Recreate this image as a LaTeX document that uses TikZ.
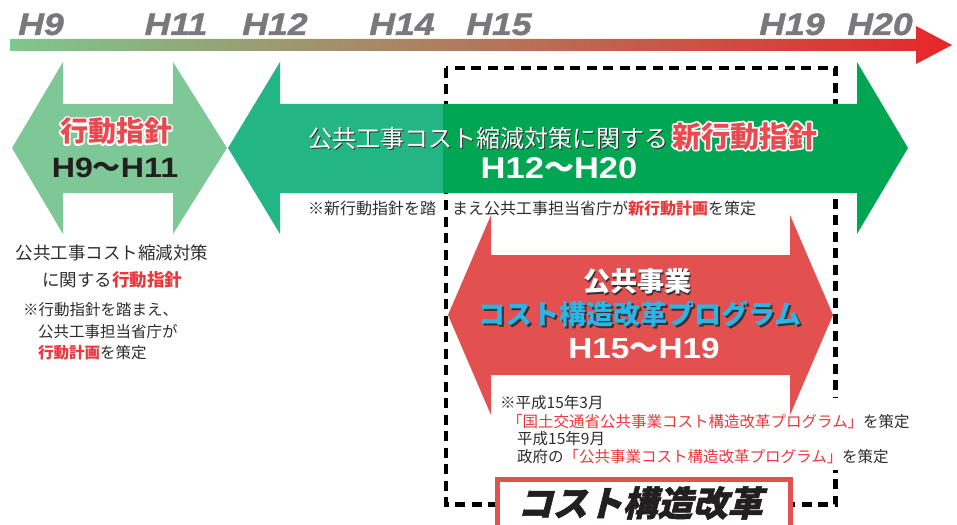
\documentclass[tikz,border=0pt]{standalone}
\usepackage{fontspec}
\setmainfont{Noto Sans CJK JP}
\newfontfamily\hfont{Liberation Sans}[FakeStretch=1.15]
\definecolor{tlgreen}{RGB}{125,200,140}
\definecolor{tltan}{RGB}{178,155,92}
\definecolor{tlred}{RGB}{232,38,42}
\definecolor{tgrey}{RGB}{120,120,125}
\definecolor{lgreen}{RGB}{125,200,150}
\definecolor{teal}{RGB}{35,182,132}
\definecolor{dgreen}{RGB}{0,166,81}
\definecolor{rarrow}{RGB}{227,80,80}
\definecolor{ared}{RGB}{232,74,79}
\definecolor{nred}{RGB}{232,56,61}
\definecolor{cyanp}{RGB}{45,180,230}
\definecolor{tblack}{RGB}{35,31,32}
\definecolor{ntext}{RGB}{45,45,45}
\definecolor{shd}{RGB}{50,50,50}
% outlined text: stroked copy underneath, filled copy on top
\newcommand\halo[3]{\leavevmode
 \rlap{\color{#1}\special{pdf:literal direct 2 Tr 3.5 w 1 j}#3\special{pdf:literal direct 0 Tr 1 w 0 j}}%
 {\color{#2}#3}}
\newcommand\shad[3]{\leavevmode
 \rlap{\color{#1}\kern1.6pt\relax\raisebox{-1.6pt}{#3}}%
 {\color{#2}#3}}
\begin{document}
\begin{tikzpicture}[x=1pt,y=-1pt,
  tlab/.style={font=\hfont\bfseries\itshape\addfontfeature{FakeBold=1.2}\fontsize{31}{31}\selectfont, text=tgrey, anchor=base, inner sep=0},
  note/.style={font=\fontsize{15.5}{18}\selectfont, text=ntext, inner sep=0, anchor=west},
  big/.style={inner sep=0, font=\bfseries\fontsize{28}{28}\selectfont}]
\useasboundingbox (0,0) rectangle (957,524);
\clip (0,0) rectangle (957,524);
% timeline
\shade[left color=tlgreen, middle color=tltan, right color=tlred]
  (10,39) -- (916,39) -- (916,26) -- (952,45) -- (916,64) -- (916,51) -- (10,51) -- cycle;
\node[tlab] (t9) at (41,35) {H9};
\node[tlab] (t11) at (176,35) {H11};
\node[tlab] (t12) at (275,35) {H12};
\node[tlab] (t14) at (402,35) {H14};
\node[tlab] (t15) at (499,35) {H15};
\node[tlab] (t19) at (792,35) {H19};
\node[tlab] (t20) at (880,35) {H20};
% dashed frame
\draw[line width=4.5pt, dash pattern=on 10pt off 6.5pt] (446,68) rectangle (835.5,504.5);
\fill[white] (826,398) rectangle (845,470);
% left arrow
\fill[lgreen] (12,148) -- (63,62) -- (63,104) -- (173,104) -- (173,62) -- (227,148)
  -- (173,234) -- (173,193) -- (63,193) -- (63,234) -- cycle;
% green arrow
\fill[teal] (228,148) -- (280,62) -- (280,104) -- (444,104) -- (444,193) -- (280,193) -- (280,234) -- cycle;
\fill[dgreen] (443,104) -- (857,104) -- (857,62) -- (908,148) -- (857,234) -- (857,193) -- (443,193) -- cycle;
% red arrow
\fill[rarrow] (448,315) -- (491,215) -- (491,255) -- (790,255) -- (790,215) -- (833,315)
  -- (790,415) -- (790,375) -- (491,375) -- (491,415) -- cycle;
% left arrow texts
\node[big] (a1t) at (116,131) {\halo{white}{ared}{行動指針}};
\node[big, anchor=base, text=tblack] (a1h) at (115,177) {{\hfont H9}～{\hfont H11}};
% green arrow texts
\node[inner sep=0, anchor=base west] (a2t) at (308,147)
  {\fontsize{24}{24}\selectfont\shad{shd}{white}{公共工事コスト縮減対策に関する}\hspace{4pt}{\bfseries\fontsize{29}{29}\selectfont\halo{white}{ared}{新行動指針}}};
\node[inner sep=0, anchor=base, text=white, font=\bfseries\fontsize{30}{30}\selectfont] (a2h) at (559,178) {{\hfont H12}～{\hfont H20}};
\node[note, font=\fontsize{16}{18}\selectfont] (n2) at (308,208)
  {※新行動指針を踏　まえ公共工事担当省庁が{\bfseries\color{nred}新行動計画}を策定};
% red arrow texts
\node[inner sep=0, font=\bfseries\fontsize{27}{27}\selectfont] (a3a) at (637,282) {\shad{shd}{white}{公共事業}};
\node[inner sep=0, font=\bfseries\fontsize{27}{27}\selectfont] (a3b) at (640,315) {\shad{shd}{cyanp}{コスト構造改革プログラム}};
\node[inner sep=0, anchor=base, text=white, font=\bfseries\fontsize{29}{29}\selectfont] (a3h) at (644,358) {{\hfont H15}～{\hfont H19}};
% notes under red arrow
\node[note] (b1) at (500,403) {※平成15年3月};
\node[note] (b2) at (507,422) {{\color{nred}「国土交通省公共事業コスト構造改革プログラム」}を策定};
\node[note] (b3) at (517,439) {平成15年9月};
\node[note] (b4) at (517,457) {政府の{\color{nred}「公共事業コスト構造改革プログラム」}を策定};
% bottom box
\filldraw[fill=white, draw=rarrow, line width=5pt] (497.5,479.5) rectangle (790,545);
\node[inner sep=0, text=tblack, font=\bfseries\addfontfeature{FakeSlant=0.25,FakeBold=1.5}\fontsize{35}{35}\selectfont] (cb) at (640,503) {コスト構造改革};
% left texts
\node[inner sep=0, text=ntext, font=\fontsize{17.5}{20}\selectfont] (l1) at (112,253) {公共工事コスト縮減対策};
\node[inner sep=0, text=ntext, font=\fontsize{17.5}{20}\selectfont] (l2) at (112,280) {に関する{\bfseries\color{nred}行動指針}};
\node[note] (l3) at (23,310) {※行動指針を踏まえ、};
\node[note] (l4) at (38,332) {公共工事担当省庁が};
\node[note] (l5) at (38,353) {{\bfseries\color{nred}行動計画}を策定};
\end{tikzpicture}
\end{document}
